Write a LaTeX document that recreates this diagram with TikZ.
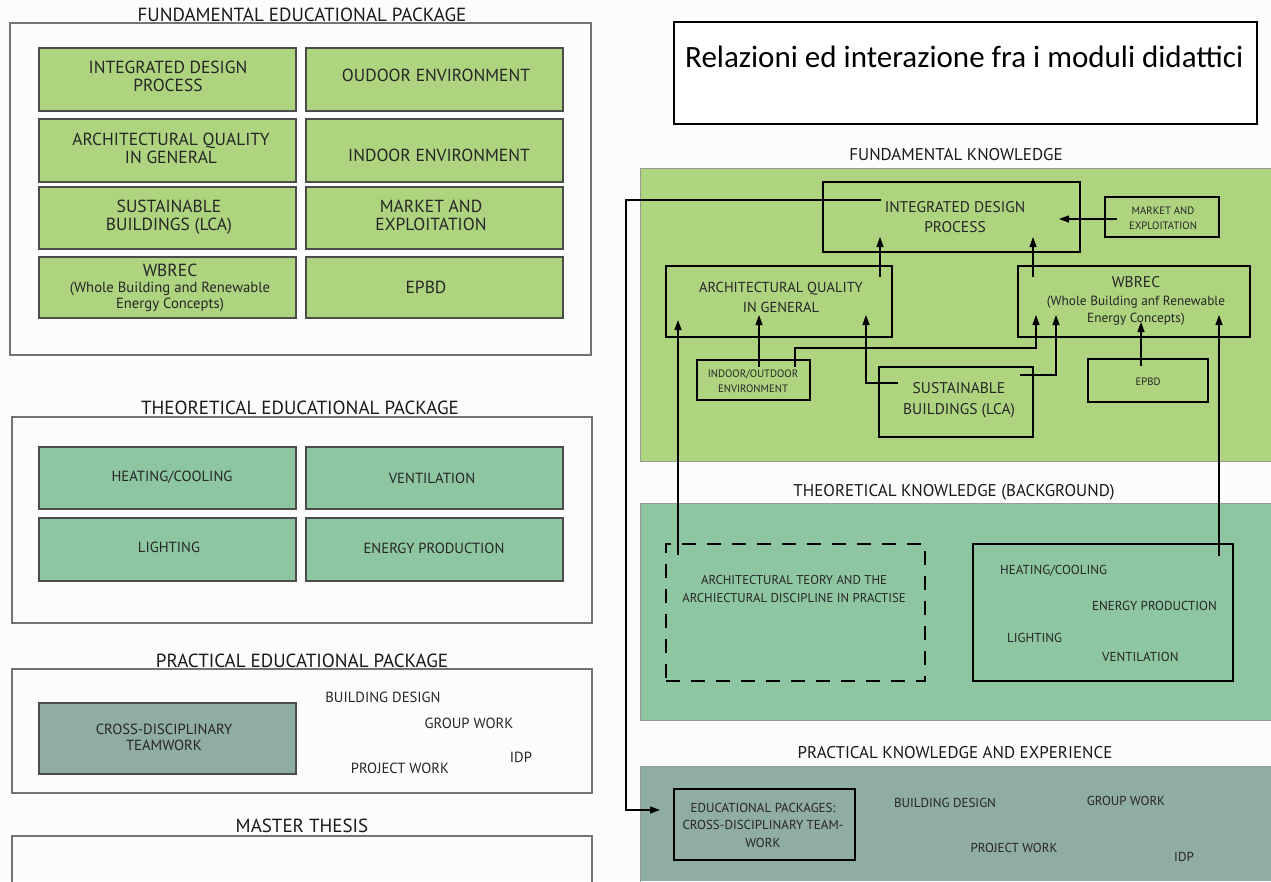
\documentclass[tikz,border=0pt]{standalone}
\usepackage{fontspec}
\setmainfont{PT Sans}
\newfontfamily\calib{Carlito}
\usetikzlibrary{arrows.meta,fit}
\definecolor{lgreen}{HTML}{AED480}
\definecolor{mgreen}{HTML}{8DC6A1}
\definecolor{ggreen}{HTML}{8FADA0}
\definecolor{bgc}{HTML}{FCFCFC}
\newcommand\bx[6]{\node[#6, fit={(#2,#3) (#4,#5)}, inner sep=0pt] (#1) {};}
\begin{document}
\begin{tikzpicture}[x=1pt,y=-1pt,
 ttl/.style={font=\fontsize{19}{21}\selectfont, text=black!90, inner sep=0pt},
 rttl/.style={font=\fontsize{17}{20}\selectfont, text=black!90, inner sep=0pt},
 outer/.style={draw=black!55, line width=1.3pt},
 lbox/.style={draw=black!70, line width=1.5pt},
 rbox/.style={draw=black, line width=2.4pt},
 dbox/.style={draw=black, line width=2.4pt, dash pattern=on 14pt off 11pt},
 arr/.style={draw=black, line width=1.3pt, -{Triangle[length=10pt,width=7pt]}},
 big/.style={font=\fontsize{17.5}{18}\selectfont, text=black!85, align=center, inner sep=0pt},
 mid/.style={font=\fontsize{14.7}{16}\selectfont, text=black!85, align=center, inner sep=0pt},
 rmid/.style={font=\fontsize{13}{15}\selectfont, text=black!85, align=center, inner sep=0pt},
 sml/.style={font=\fontsize{10.7}{15}\selectfont, text=black!85, align=center, inner sep=0pt},
]
\useasboundingbox (0,0) rectangle (1271,881);
\fill[bgc] (0,0) rectangle (1271,881);

% ---------------- left panel ----------------
\node[ttl] (tfep) at (302,15) {FUNDAMENTAL EDUCATIONAL PACKAGE};
\bx{ofep}{10}{23}{591}{355}{outer}
\bx{l1}{39}{48}{296}{111}{lbox,fill=lgreen}
\bx{l2}{306}{48}{563}{111}{lbox,fill=lgreen}
\bx{l3}{39}{119}{296}{182}{lbox,fill=lgreen}
\bx{l4}{306}{119}{563}{182}{lbox,fill=lgreen}
\bx{l5}{39}{187}{296}{249}{lbox,fill=lgreen}
\bx{l6}{306}{187}{563}{249}{lbox,fill=lgreen}
\bx{l7}{39}{257}{296}{318}{lbox,fill=lgreen}
\bx{l8}{306}{257}{563}{318}{lbox,fill=lgreen}
\node[big] (tl1) at (168,76) {INTEGRATED DESIGN\\PROCESS};
\node[big] (tl2) at (436,75) {OUDOOR ENVIRONMENT};
\node[big] (tl3) at (171,148) {ARCHITECTURAL QUALITY\\IN GENERAL};
\node[big] (tl4) at (439,155) {INDOOR ENVIRONMENT};
\node[big] (tl5) at (169,217) {SUSTAINABLE\\BUILDINGS (LCA)};
\node[big] (tl6) at (431,215) {MARKET AND\\EXPLOITATION};
\node[mid] (tl7) at (170,288) {{\fontsize{17.5}{16}\selectfont WBREC}\\(Whole Building and Renewable\\Energy Concepts)};
\node[big] (tl8) at (426,287) {EPBD};

\node[ttl] (ttep) at (300,408) {THEORETICAL EDUCATIONAL PACKAGE};
\bx{otep}{12}{417}{592}{623}{outer}
\bx{m1}{39}{447}{296}{509}{lbox,fill=mgreen}
\bx{m2}{306}{447}{563}{509}{lbox,fill=mgreen}
\bx{m3}{39}{518}{296}{581}{lbox,fill=mgreen}
\bx{m4}{306}{518}{563}{581}{lbox,fill=mgreen}
\node[mid] (tm1) at (172,477) {HEATING/COOLING};
\node[mid] (tm2) at (432,478) {VENTILATION};
\node[mid] (tm3) at (169,547) {LIGHTING};
\node[mid] (tm4) at (434,548) {ENERGY PRODUCTION};

\node[ttl] (tpep) at (302,661) {PRACTICAL EDUCATIONAL PACKAGE};
\bx{opep}{12}{669}{592}{793}{outer}
\bx{p1}{39}{703}{296}{774}{lbox,fill=ggreen}
\node[mid] (tp1) at (164,737) {CROSS-DISCIPLINARY\\TEAMWORK};
\node[mid] (tp2) at (383,697) {BUILDING DESIGN};
\node[mid] (tp3) at (469,723) {GROUP WORK};
\node[mid] (tp4) at (521,757) {IDP};
\node[mid] (tp5) at (400,768) {PROJECT WORK};

\node[ttl] (tmt) at (302,826) {MASTER THESIS};
\draw[outer] (12,890) |- (592,836) -- (592,890);

% ---------------- right panel ----------------
\bx{rel}{674}{22}{1257}{124}{draw=black, line width=1.4pt, fill=white}
\node[font=\calib\fontsize{31}{34}\selectfont, anchor=west, inner sep=0pt] (trel) at (685,57) {Relazioni ed interazione fra i moduli didattici};

\node[rttl] (tfk) at (956,155) {FUNDAMENTAL KNOWLEDGE};
\fill[lgreen] (640,168) rectangle (1271,461);
\draw[black!40, line width=1pt] (1275,168) -- (640,168) -- (640,461) -- (1275,461);
\bx{idp}{823}{182}{1080}{252}{rbox}
\bx{mkt}{1105}{197}{1219}{237}{rbox}
\bx{arq}{666}{266}{892}{337}{rbox}
\bx{wbr}{1018}{266}{1250}{337}{rbox}
\bx{io}{697}{360}{810}{400}{rbox}
\bx{sus}{879}{367}{1033}{437}{rbox}
\bx{epb}{1088}{359}{1208}{402}{rbox}
\node[big, font=\fontsize{15.5}{20}\selectfont] (tidp) at (955,217) {INTEGRATED DESIGN\\PROCESS};
\node[sml] (tmkt) at (1163,218) {MARKET AND\\EXPLOITATION};
\node[big, font=\fontsize{14.5}{20}\selectfont] (tarq) at (781,297) {ARCHITECTURAL QUALITY\\IN GENERAL};
\node[big, font=\fontsize{13.3}{17.5}\selectfont] (twbr) at (1136,301) {{\fontsize{15.5}{16}\selectfont WBREC}\\(Whole Building anf Renewable\\Energy Concepts)};
\node[sml] (tio) at (753,381) {INDOOR/OUTDOOR\\ENVIRONMENT};
\node[big, font=\fontsize{15.5}{21}\selectfont] (tsus) at (959,400) {SUSTAINABLE\\BUILDINGS (LCA)};
\node[sml] (tepb) at (1148,382) {EPBD};

\node[rttl] (ttk) at (954,492) {THEORETICAL KNOWLEDGE (BACKGROUND)};
\fill[mgreen] (640,503) rectangle (1271,720);
\draw[black!40, line width=1pt] (1275,503) -- (640,503) -- (640,720) -- (1275,720);
\bx{atd}{666}{544}{925}{681}{dbox}
\bx{hcb}{973}{544}{1233}{681}{rbox}
\node[rmid, font=\fontsize{12.8}{18}\selectfont] (tatd) at (794,589) {ARCHITECTURAL TEORY AND THE\\ARCHIECTURAL DISCIPLINE IN PRACTISE};
\node[rmid, anchor=west] (th1) at (1000,571) {HEATING/COOLING};
\node[rmid, anchor=west] (th2) at (1092,606) {ENERGY PRODUCTION};
\node[rmid, anchor=west] (th3) at (1007,638) {LIGHTING};
\node[rmid, anchor=west] (th4) at (1102,657) {VENTILATION};

\node[rttl] (tpk) at (955,753) {PRACTICAL KNOWLEDGE AND EXPERIENCE};
\fill[ggreen] (640,766) rectangle (1271,881);
\draw[black!40, line width=1pt] (1275,766) -- (640,766) -- (640,885);
\bx{edp}{674}{789}{855}{860}{rbox}
\node[rmid, font=\fontsize{13}{17.5}\selectfont] (tedp) at (763,825) {EDUCATIONAL PACKAGES:\\CROSS-DISCIPLINARY TEAM-\\WORK};
\node[rmid] (tq1) at (945,803) {BUILDING DESIGN};
\node[rmid] (tq2) at (1126,801) {GROUP WORK};
\node[rmid] (tq3) at (1014,848) {PROJECT WORK};
\node[rmid] (tq4) at (1184,857) {IDP};

% ---------------- connectors ----------------
\coordinate (c1) at (880,277); \coordinate (c1e) at (880,237);
\coordinate (c2) at (1033,277); \coordinate (c2e) at (1033,237);
\coordinate (c3) at (759,367); \coordinate (c3e) at (759,315);
\coordinate (c4) at (795,367); \coordinate (c4e) at (1036,315);
\coordinate (c5) at (898,383); \coordinate (c5e) at (866,315);
\coordinate (c6) at (1020,375); \coordinate (c6e) at (1056,315);
\coordinate (c7) at (1141,366); \coordinate (c7e) at (1141,322);
\coordinate (c8) at (678,555); \coordinate (c8e) at (678,320);
\coordinate (c9) at (1219,556); \coordinate (c9e) at (1219,315);
\coordinate (c10) at (1117,219); \coordinate (c10e) at (1059,219);
\coordinate (c11) at (881,200); \coordinate (c11e) at (660,810);

\draw[arr] (c1) -- (c1e);
\draw[arr] (c2) -- (c2e);
\draw[arr] (c3) -- (c3e);
\draw[arr] (c4) |- (1036,348) -- (c4e);
\draw[arr] (c5) -| (c5e);
\draw[arr] (c6) -| (c6e);
\draw[arr] (c7) -- (c7e);
\draw[arr] (c8) -- (c8e);
\draw[arr] (c9) -- (c9e);
\draw[arr] (c10) -- (c10e);
\draw[arr] (c11) -- (626,200) |- (c11e);
\end{tikzpicture}
\end{document}
